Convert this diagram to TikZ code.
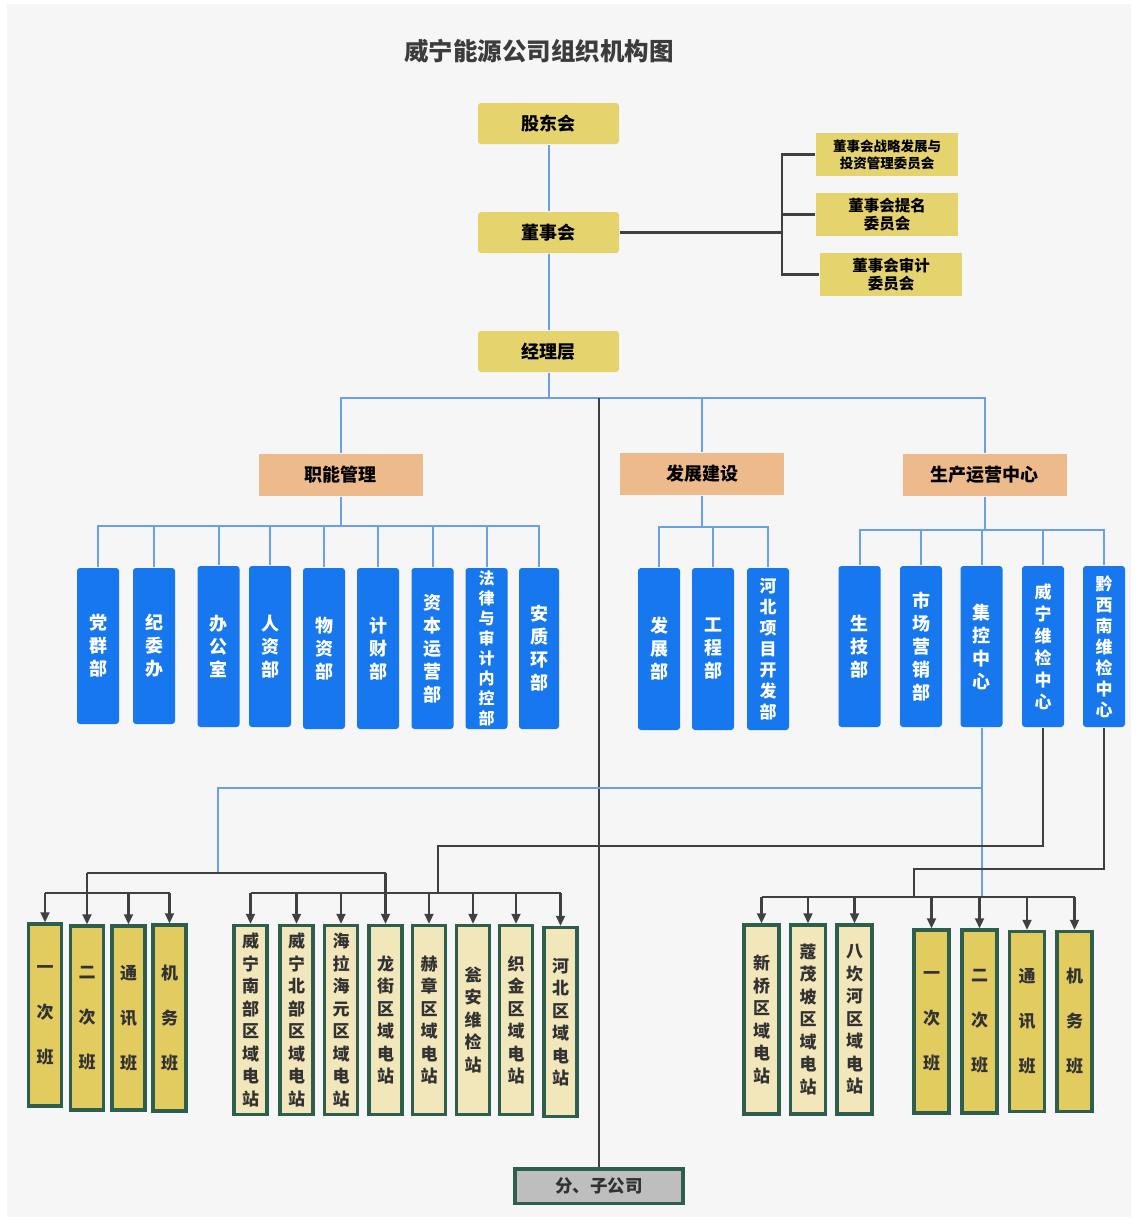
\documentclass[tikz,border=0pt]{standalone}
\usepackage{fontspec}
\setmainfont{Noto Sans CJK SC}
\usetikzlibrary{arrows.meta}

\definecolor{canvas}{RGB}{246,246,246}
\definecolor{titlegray}{RGB}{60,60,60}
\definecolor{topyellow}{RGB}{229,211,110}
\definecolor{branchorange}{RGB}{236,186,139}
\definecolor{deptblue}{RGB}{22,119,238}
\definecolor{teamyellow}{RGB}{226,204,96}
\definecolor{stationcream}{RGB}{242,230,187}
\definecolor{teamgreen}{RGB}{45,94,78}
\definecolor{officegray}{RGB}{190,190,190}
\definecolor{linkblue}{RGB}{105,160,230}
\definecolor{linkgray}{RGB}{64,64,64}
\definecolor{textgray}{RGB}{50,50,50}

\begin{document}
\begin{tikzpicture}[x=1pt,y=-1pt,
                    line width=2pt,
                    font=\bfseries,
                    ]
    \tikzstyle{board}=[fill=topyellow,rounded corners=3pt,minimum width=141pt,minimum height=41pt,inner sep=0pt,font=\bfseries\fontsize{18}{22}\selectfont]
    \tikzstyle{committee}=[board, rounded corners=0pt, minimum width=142pt, minimum height=43pt, align=center, font=\bfseries\fontsize{15.5}{18}\selectfont]
    \tikzstyle{division}=[board, fill=branchorange, rounded corners=0pt, minimum width=164pt, minimum height=42pt];
    \tikzstyle{dept}=[fill=deptblue, text=white, rounded corners=3pt, minimum width=42pt, minimum height=161pt, inner sep=0pt, align=center, font=\bfseries\fontsize{18}{23}\selectfont];
    \tikzstyle{longdept}=[dept, font=\bfseries\fontsize{17}{21}\selectfont];
    \tikzstyle{team}=[draw=teamgreen, line width=3.5pt, fill=teamyellow, text=textgray, minimum width=33pt, minimum height=184pt, inner sep=0pt, align=center, font=\bfseries\fontsize{17}{45}\selectfont];
    \tikzstyle{station}=[team, fill=stationcream, minimum height=189pt, font=\bfseries\fontsize{17}{22.5}\selectfont];
    \tikzstyle{blueline}=[draw=linkblue, line width=2pt];
    \tikzstyle{darkline}=[draw=linkgray, line width=2.2pt];
    \tikzstyle{feed}=[darkline, -{Triangle[length=10pt,width=9pt]}];

    \fill[white] (0,0) rectangle (1137,1221);
    \fill[canvas] (7,4) rectangle (1131,1217);

    \node[font=\bfseries\fontsize{24.5}{28}\selectfont, text=titlegray] (title) at (539,51) {威宁能源公司组织机构图};

    % governance
    \node[board] (gdh) at (548.5,123.5) {股东会};
    \node[board] (dsh) at (548.5,232.5) {董事会};
    \node[board] (jlc) at (548.5,351.5) {经理层};

    \node[committee, font=\bfseries\fontsize{13.5}{17}\selectfont] (zlw) at (887,154.5) {董事会战略发展与\\投资管理委员会};
    \node[committee] (tmw) at (887,214.5) {董事会提名\\委员会};
    \node[committee] (sjw) at (891,274.5) {董事会审计\\委员会};

    % divisions
    \node[division] (znl) at (340.5,474.5) {职能管理};
    \node[division] (fzj) at (702,474) {发展建设};
    \node[division] (scz) at (984.5,475) {生产运营中心};

    \node[dept, minimum height=156pt] (dqb) at (98,646) {党\\群\\部};
    \node[dept, minimum height=156pt] (jwb) at (154,646) {纪\\委\\办};
    \node[dept] (bgs) at (218.5,646.5) {办\\公\\室};
    \node[dept] (rzb) at (270,646.5) {人\\资\\部};
    \node[dept] (wzb) at (324,648.5) {物\\资\\部};
    \node[dept] (jcb) at (378,648.5) {计\\财\\部};
    \node[dept] (zby) at (432.5,648.5) {资\\本\\运\\营\\部};
    \node[longdept, font=\bfseries\fontsize{16}{20}\selectfont] (flb) at (486.5,648.5) {法\\律\\与\\审\\计\\内\\控\\部};
    \node[dept, minimum width=40pt] (azh) at (539,648.5) {安\\质\\环\\部};

    \node[dept, minimum height=162pt] (fzb) at (659,649) {发\\展\\部};
    \node[dept, minimum height=162pt] (gcb) at (713,649) {工\\程\\部};
    \node[longdept, minimum height=162pt] (hbx) at (768,649) {河\\北\\项\\目\\开\\发\\部};

    \node[dept] (sjb) at (859.5,646.5) {生\\技\\部};
    \node[dept] (scy) at (921,646.5) {市\\场\\营\\销\\部};
    \node[dept] (jkz) at (981.5,646.5) {集\\控\\中\\心};
    \node[longdept, font=\bfseries\fontsize{17}{22}\selectfont] (wnw) at (1043,646.5) {威\\宁\\维\\检\\中\\心};
    \node[longdept] (qxn) at (1104,646.5) {黔\\西\\南\\维\\检\\中\\心};

    % teams and stations
    \node[team, minimum height=182pt] (yc) at (45,1015) {一\\次\\班};
    \node[team] (ec) at (87,1018) {二\\次\\班};
    \node[team] (tx) at (128.5,1018) {通\\讯\\班};
    \node[team, minimum height=186pt] (jw) at (169.5,1018) {机\\务\\班};

    \node[station] (wnn) at (250.5,1020) {威\\宁\\南\\部\\区\\域\\电\\站};
    \node[station] (wnb) at (296.5,1020) {威\\宁\\北\\部\\区\\域\\电\\站};
    \node[station] (hlh) at (341,1020) {海\\拉\\海\\元\\区\\域\\电\\站};
    \node[station] (ljq) at (385.5,1020) {龙\\街\\区\\域\\电\\站};
    \node[station] (hzq) at (429,1020) {赫\\章\\区\\域\\电\\站};
    \node[station] (wax) at (473,1020) {瓮\\安\\维\\检\\站};
    \node[station] (zjq) at (516,1020) {织\\金\\区\\域\\电\\站};
    \node[station] (hbq) at (560.5,1022) {河\\北\\区\\域\\电\\站};

    \node[station, minimum width=35pt] (xqq) at (761.5,1019.5) {新\\桥\\区\\域\\电\\站};
    \node[station, minimum width=35pt] (kmp) at (808,1019.5) {蔻\\茂\\坡\\区\\域\\电\\站};
    \node[station, minimum width=35pt] (bkh) at (854.5,1019.5) {八\\坎\\河\\区\\域\\电\\站};

    \node[team, minimum width=35pt, minimum height=183pt] (yc2) at (931.5,1021.5) {一\\次\\班};
    \node[team, minimum width=35pt, minimum height=183pt] (ec2) at (979.5,1021.5) {二\\次\\班};
    \node[team, minimum width=35pt, minimum height=180pt] (tx2) at (1027,1021.5) {通\\讯\\班};
    \node[team, minimum width=35pt, minimum height=180pt] (jw2) at (1074.5,1021.5) {机\\务\\班};

    \node[team, fill=officegray, minimum width=168pt, minimum height=34.5pt, font=\bfseries\fontsize{17.5}{20}\selectfont] (fzgs) at (599,1186) {分、子公司};

    % junctions
    \coordinate (dfork) at (782,232.5);
    \coordinate (mbus) at (548.5,398);
    \coordinate (zbus) at (340.5,526);
    \coordinate (fbus) at (702,527);
    \coordinate (sbus) at (984.5,530);
    \coordinate (bsplit) at (981.5,788);
    \coordinate (ljoin) at (218,873);
    \coordinate (wjoin) at (438,846);
    \coordinate (qjoin) at (914,869);
    \coordinate (lbus) at (0,893);
    \coordinate (rbus) at (0,897);

    \path[blueline] (gdh) -- (dsh) (dsh) -- (jlc) (jlc) -- (mbus);
    \path[darkline] (dsh) -- (dfork) (zlw.west) -| (dfork) |- (sjw.west) (tmw.west) -- (tmw.west -| dfork);

    \path[blueline] (znl) -- (znl |- mbus) -- (scz |- mbus) -- (scz) (fzj) -- (fzj |- mbus);
    \path[darkline] (fzgs) -- (fzgs |- mbus);

    \path[blueline] (znl) -- (zbus) (dqb.north) |- (zbus) -| (azh.north)
        (jwb.north) -- (jwb.north |- zbus) (bgs.north) -- (bgs.north |- zbus)
        (rzb.north) -- (rzb.north |- zbus) (wzb.north) -- (wzb.north |- zbus)
        (jcb.north) -- (jcb.north |- zbus) (zby.north) -- (zby.north |- zbus)
        (flb.north) -- (flb.north |- zbus);
    \path[blueline] (fzj) -- (fbus) (fzb.north) |- (fbus) -| (hbx.north)
        (gcb.north) -- (gcb.north |- fbus);
    \path[blueline] (scz) -- (sbus) (sjb.north) |- (sbus) -| (qxn.north)
        (scy.north) -- (scy.north |- sbus) (jkz.north) -- (jkz.north |- sbus)
        (wnw.north) -- (wnw.north |- sbus);

    % lower feeds
    \path[blueline] (jkz.south) -- (jkz.south |- rbus) (bsplit) -| (ljoin);
    \path[darkline] (ec.north |- ljoin) -- (ljq.north |- ljoin)
        (yc.north |- lbus) -- (jw.north |- lbus)
        (wnn.north |- lbus) -- (hbq.north |- lbus)
        (wnw.south) |- (wjoin) -- (wjoin |- lbus)
        (qxn.south) |- (qjoin) -- (qjoin |- rbus)
        (xqq.north |- rbus) -- (jw2.north |- rbus);

    \path[every edge/.style={feed}] (yc.north |- lbus) edge (yc.north) (ec.north |- ljoin) edge (ec.north)
        (tx.north |- lbus) edge (tx.north) (jw.north |- lbus) edge (jw.north)
        (wnn.north |- lbus) edge (wnn.north) (wnb.north |- lbus) edge (wnb.north)
        (hlh.north |- lbus) edge (hlh.north) (ljq.north |- ljoin) edge (ljq.north)
        (hzq.north |- lbus) edge (hzq.north) (wax.north |- lbus) edge (wax.north)
        (zjq.north |- lbus) edge (zjq.north) (hbq.north |- lbus) edge (hbq.north);
    \path[every edge/.style={feed}] (xqq.north |- rbus) edge (xqq.north) (kmp.north |- rbus) edge (kmp.north)
        (bkh.north |- rbus) edge (bkh.north) (yc2.north |- rbus) edge (yc2.north)
        (ec2.north |- rbus) edge (ec2.north) (tx2.north |- rbus) edge (tx2.north)
        (jw2.north |- rbus) edge (jw2.north);
\end{tikzpicture}
\end{document}
